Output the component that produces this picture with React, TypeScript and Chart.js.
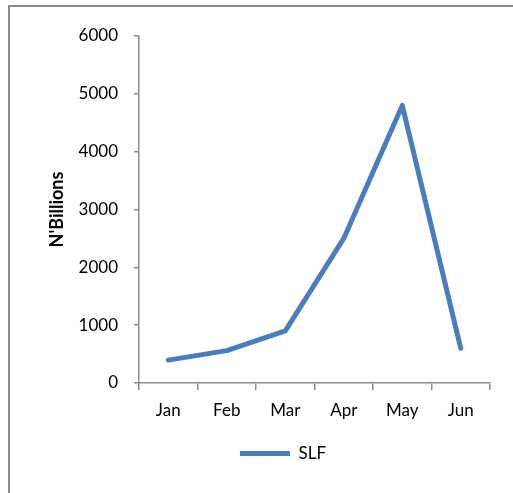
import React, { useEffect, useRef } from "react";
import { Chart, registerables } from "chart.js";

Chart.register(...registerables);

const categories = ["Jan", "Feb", "Mar", "Apr", "May", "Jun"];
const slfValues = [395, 560, 900, 2500, 4800, 600];
const seriesLabel = "SLF";
const yAxisTitle = "N'Billions";
const yTicks = [0, 1000, 2000, 3000, 4000, 5000, 6000];

const FONT = "Lato, 'Open Sans', sans-serif";
const AXIS_COLOR = "#8c8c8c";

export default function App() {
  const canvasRef = useRef<HTMLCanvasElement | null>(null);

  useEffect(() => {
    document.body.style.margin = "0";
    const canvas = canvasRef.current;
    if (!canvas) return;
    const chart = new Chart(canvas, {
      type: "line",
      data: {
        labels: categories,
        datasets: [
          {
            label: seriesLabel,
            data: slfValues,
            borderColor: "#4A7EBB",
            backgroundColor: "#4A7EBB",
            borderWidth: 5,
            borderCapStyle: "round",
            borderJoinStyle: "round",
            pointRadius: 0,
            pointHoverRadius: 0,
            tension: 0,
          },
        ],
      },
      options: {
        animation: false,
        responsive: false,
        maintainAspectRatio: false,
        events: [],
        layout: { padding: { left: 76, right: 23, top: 36, bottom: 21 } },
        plugins: {
          tooltip: { enabled: false },
          title: { display: false },
          legend: {
            display: true,
            position: "bottom",
            labels: {
              usePointStyle: true,
              pointStyle: "line",
              pointStyleWidth: 50,
              padding: 12,
              color: "#000",
              font: { family: FONT, size: 17 },
            },
          },
        },
        scales: {
          x: {
            type: "category",
            offset: true,
            grid: {
              offset: true,
              drawOnChartArea: false,
              drawTicks: true,
              tickLength: 7,
              color: AXIS_COLOR,
              lineWidth: 1.5,
            },
            border: { display: true, color: AXIS_COLOR, width: 1.5 },
            ticks: {
              color: "#000",
              padding: 10,
              font: { family: FONT, size: 17 },
              maxRotation: 0,
            },
            afterFit: (scale: any) => {
              scale.height = 50;
            },
          },
          y: {
            min: 0,
            max: 6000,
            afterBuildTicks: (scale: any) => {
              scale.ticks = yTicks.map((v) => ({ value: v }));
            },
            grid: {
              drawOnChartArea: false,
              drawTicks: true,
              tickLength: 5,
              color: AXIS_COLOR,
              lineWidth: 1.5,
            },
            border: { display: true, color: AXIS_COLOR, width: 1.5 },
            ticks: {
              color: "#000",
              padding: 16,
              font: { family: FONT, size: 17 },
              callback: (value: any) => String(value),
            },
            title: {
              display: true,
              text: yAxisTitle,
              color: "#000",
              font: { family: FONT, size: 18, weight: "bold" },
              padding: { top: -30, bottom: 0 },
            },
            afterFit: (scale: any) => {
              scale.width = 63;
            },
          },
        },
      },
    });
    return () => chart.destroy();
  }, []);

  return (
    <div
      style={{
        position: "relative",
        width: 513,
        height: 493,
        overflow: "hidden",
        background: "#fff",
      }}
    >
      <div
        style={{
          position: "absolute",
          left: 8,
          top: 5,
          width: 700,
          height: 700,
          border: "2px solid #8c8c8c",
          boxSizing: "border-box",
        }}
      />
      <canvas
        ref={canvasRef}
        width={513}
        height={493}
        style={{ position: "absolute", left: 0, top: 0, width: 513, height: 493 }}
      />
    </div>
  );
}
